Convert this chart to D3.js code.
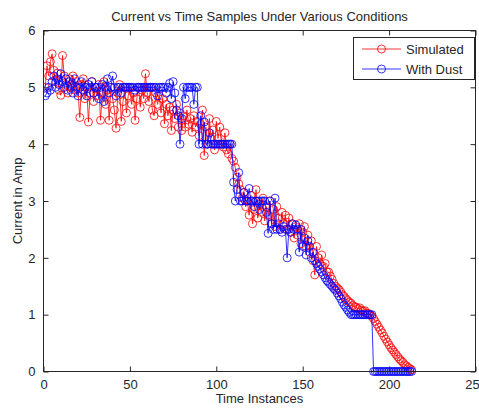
<!DOCTYPE html>
<html>
<head>
<meta charset="utf-8">
<script src="https://cdn.jsdelivr.net/npm/d3@7"></script>
<style>
  html, body { margin: 0; padding: 0; background: #fff; }
  svg { display: block; }
  text { font-family: Arial, "Liberation Sans", sans-serif; fill: #262626; }
</style>
</head>
<body>
<svg id="chart" width="479" height="408"></svg>
<script>
const title = "Current vs Time Samples Under Various Conditions";
const xLabel = "Time Instances";
const yLabel = "Current in Amp";
const seriesNames = ["Simulated", "With Dust"];
const seriesColors = ["#ff0000", "#0000ff"];
const xTicks = [0, 50, 100, 150, 200, 250];
const xTickLabels = ["0", "50", "100", "150", "200", "250"];
const yTicks = [0, 1, 2, 3, 4, 5, 6];

const simulated = [
  5.0, 5.38, 5.2, 5.45, 5.59, 5.3, 5.1, 5.25, 4.95, 4.86,
  5.56, 5.2, 5.05, 4.9, 5.15, 5.0, 5.2, 4.95, 5.1, 4.9,
  4.47, 5.05, 5.15, 4.8, 5.0, 4.39, 4.9, 5.1, 4.75, 5.0,
  4.85, 5.05, 4.42, 4.9, 5.1, 4.7, 4.95, 4.42, 5.0, 4.8,
  4.6, 4.28, 4.9, 5.05, 4.4, 4.75, 5.0, 4.55, 4.85, 5.0,
  4.7, 4.9, 4.42, 4.8, 5.0, 4.65, 4.95, 4.8, 5.24, 4.9,
  4.75, 5.0, 4.6, 4.5, 4.9, 4.7, 4.85, 4.55, 4.8, 4.36,
  4.7, 4.5, 4.65, 4.24, 4.6, 4.45, 4.7, 4.3, 4.55, 4.24,
  4.5, 4.3, 4.6, 4.35, 4.45, 4.21, 4.5, 4.3, 4.4, 4.15,
  4.35, 4.6, 3.8, 4.3, 4.0, 4.45, 4.1, 4.25, 3.9, 4.4,
  4.1, 4.3, 4.0, 3.95, 4.2, 3.9, 3.83, 4.0, 3.75, 3.7,
  3.59, 3.42, 3.3, 3.2, 3.05, 3.15, 2.9, 3.0, 2.75, 3.1,
  2.6, 2.85, 3.2, 2.7, 2.95, 2.8, 3.05, 2.65, 2.9, 2.75,
  3.0, 2.6, 2.85, 2.55, 2.9, 2.7, 2.5, 2.8, 2.6, 2.75,
  2.5, 2.7, 2.45, 2.6, 2.35, 2.55, 2.4, 2.6, 2.25, 2.45,
  2.55, 2.2, 2.4, 2.1, 2.3, 1.95, 1.7, 2.2, 2.0, 1.9,
  2.05, 1.85, 1.9, 1.75, 1.75, 1.68, 1.62, 1.55, 1.5, 1.47,
  1.44, 1.4, 1.35, 1.32, 1.28, 1.25, 1.22, 1.2, 1.16, 1.14,
  1.13, 1.1, 1.12, 1.08, 1.06, 1.07, 1.03, 1.02, 1.0, 0.97,
  0.93, 0.88, 0.83, 0.78, 0.73, 0.68, 0.62, 0.57, 0.52, 0.47,
  0.42, 0.38, 0.34, 0.3, 0.26, 0.22, 0.19, 0.16, 0.12, 0.1,
  0.07, 0.05, 0.03
];

const withDust = [
  4.85, 4.9, 5.0, 4.95, 5.1, 5.2, 5.0, 5.15, 5.05, 5.24,
  5.1, 5.0, 5.15, 4.95, 5.1, 5.05, 4.9, 5.15, 5.0, 4.85,
  5.0, 5.1, 4.95, 5.0, 4.85, 5.05, 5.0, 5.1, 4.9, 5.0,
  5.0, 4.8, 5.0, 5.05, 4.75, 5.0, 5.15, 4.9, 5.0, 5.2,
  5.0, 4.85, 5.0, 5.0, 4.9, 5.0, 5.0, 5.0, 5.0, 5.0,
  5.0, 5.0, 4.95, 5.0, 5.0, 5.0, 5.0, 5.0, 5.0, 5.0,
  5.0, 5.0, 5.0, 5.0, 5.0, 4.85, 5.0, 5.0, 5.0, 5.0,
  4.9, 5.0, 5.07, 4.8, 5.1, 4.9, 4.6, 4.5, 4.0, 4.45,
  5.0, 4.8, 5.0, 5.0, 5.0, 5.0, 4.7, 5.0, 5.0, 4.0,
  4.5, 4.0, 4.39, 4.0, 4.0, 4.2, 4.0, 4.0, 4.0, 4.0,
  4.0, 4.0, 4.0, 4.0, 4.0, 4.0, 4.0, 4.0, 4.0, 3.33,
  3.0, 3.2, 3.5, 3.0, 3.0, 3.15, 3.0, 3.0, 3.22, 3.0,
  3.0, 2.9, 3.0, 3.0, 2.85, 3.0, 3.0, 3.0, 2.8, 2.43,
  3.0, 2.6, 2.5, 3.05, 2.5, 2.6, 2.5, 2.45, 2.55, 2.5,
  2.0, 2.5, 2.45, 2.6, 2.5, 2.58, 2.5, 2.1, 2.5, 2.2,
  2.35, 2.05, 2.3, 2.2, 2.0, 2.1, 1.95, 1.9, 1.85, 1.8,
  1.75, 1.7, 1.65, 1.6, 1.57, 1.53, 1.5, 1.46, 1.43, 1.38,
  1.33, 1.28, 1.22, 1.17, 1.13, 1.08, 1.04, 1.0, 1.0, 1.0,
  1.0, 1.0, 1.0, 1.0, 1.0, 1.0, 1.0, 1.0, 1.0, 1.0,
  0, 0, 0, 0, 0, 0, 0, 0, 0, 0,
  0, 0, 0, 0, 0, 0, 0, 0, 0, 0,
  0, 0, 0
];

const series = [simulated, withDust];

const svg = d3.select("#chart");
const L = 43.5, R = 475.5, T = 30.5, B = 371.5;

const x = d3.scaleLinear().domain([0, 250]).range([L, R]);
const y = d3.scaleLinear().domain([0, 6]).range([B, T]);

const plot = svg.append("g");
const clip = svg.append("clipPath").attr("id", "clip")
  .append("rect").attr("x", L).attr("y", T - 6).attr("width", R - L).attr("height", B - T + 12);

const line = d3.line().x((d, i) => x(i + 1)).y(d => y(d));

series.forEach((vals, si) => {
  const g = plot.append("g").attr("clip-path", "url(#clip)");
  g.append("path").datum(vals)
    .attr("d", line)
    .attr("fill", "none")
    .attr("stroke", seriesColors[si])
    .attr("stroke-width", 0.8);
  g.selectAll("circle").data(vals).join("circle")
    .attr("cx", (d, i) => x(i + 1))
    .attr("cy", d => y(d))
    .attr("r", 4)
    .attr("fill", "none")
    .attr("stroke", seriesColors[si])
    .attr("stroke-width", 0.8);
});

// axes box
svg.append("rect").attr("x", L).attr("y", T).attr("width", R - L).attr("height", B - T)
  .attr("fill", "none").attr("stroke", "#262626").attr("stroke-width", 1);

const tickLen = 5;
const axB = svg.append("g").attr("transform", `translate(0,${B})`)
  .call(d3.axisBottom(x).tickValues(xTicks).tickFormat((d, i) => xTickLabels[i]).tickSizeInner(-tickLen).tickSizeOuter(0).tickPadding(8));
const axT = svg.append("g").attr("transform", `translate(0,${T})`)
  .call(d3.axisTop(x).tickValues(xTicks).tickFormat("").tickSizeInner(-tickLen).tickSizeOuter(0));
const axL = svg.append("g").attr("transform", `translate(${L},0)`)
  .call(d3.axisLeft(y).tickValues(yTicks).tickFormat(d3.format("d")).tickSizeInner(-tickLen).tickSizeOuter(0).tickPadding(8));
const axR = svg.append("g").attr("transform", `translate(${R},0)`)
  .call(d3.axisRight(y).tickValues(yTicks).tickFormat("").tickSizeInner(-tickLen).tickSizeOuter(0));

[axB, axT, axL, axR].forEach(a => {
  a.select(".domain").remove();
  a.selectAll("line").attr("stroke", "#262626");
  a.selectAll("text").attr("font-size", 13).attr("fill", "#262626")
    .attr("font-family", "Arial, 'Liberation Sans', sans-serif");
});

svg.append("text").attr("x", (L + R) / 2).attr("y", 21)
  .attr("text-anchor", "middle").attr("font-size", 13).text(title);
svg.append("text").attr("x", (L + R) / 2).attr("y", 403)
  .attr("text-anchor", "middle").attr("font-size", 13).text(xLabel);
svg.append("text").attr("transform", `translate(22,${(T + B) / 2}) rotate(-90)`)
  .attr("text-anchor", "middle").attr("font-size", 13).text(yLabel);

// legend
const lg = svg.append("g");
lg.append("rect").attr("x", 353.5).attr("y", 37.5).attr("width", 121).attr("height", 42)
  .attr("fill", "#fff").attr("stroke", "#262626").attr("stroke-width", 1);
seriesNames.forEach((name, i) => {
  const yy = 49 + i * 20;
  lg.append("line").attr("x1", 362).attr("x2", 401).attr("y1", yy).attr("y2", yy)
    .attr("stroke", seriesColors[i]).attr("stroke-width", 0.8);
  lg.append("circle").attr("cx", 381.5).attr("cy", yy).attr("r", 4)
    .attr("fill", "none").attr("stroke", seriesColors[i]).attr("stroke-width", 0.8);
  lg.append("text").attr("x", 406).attr("y", yy + 4.5).attr("font-size", 13).text(name);
});
</script>
</body>
</html>
